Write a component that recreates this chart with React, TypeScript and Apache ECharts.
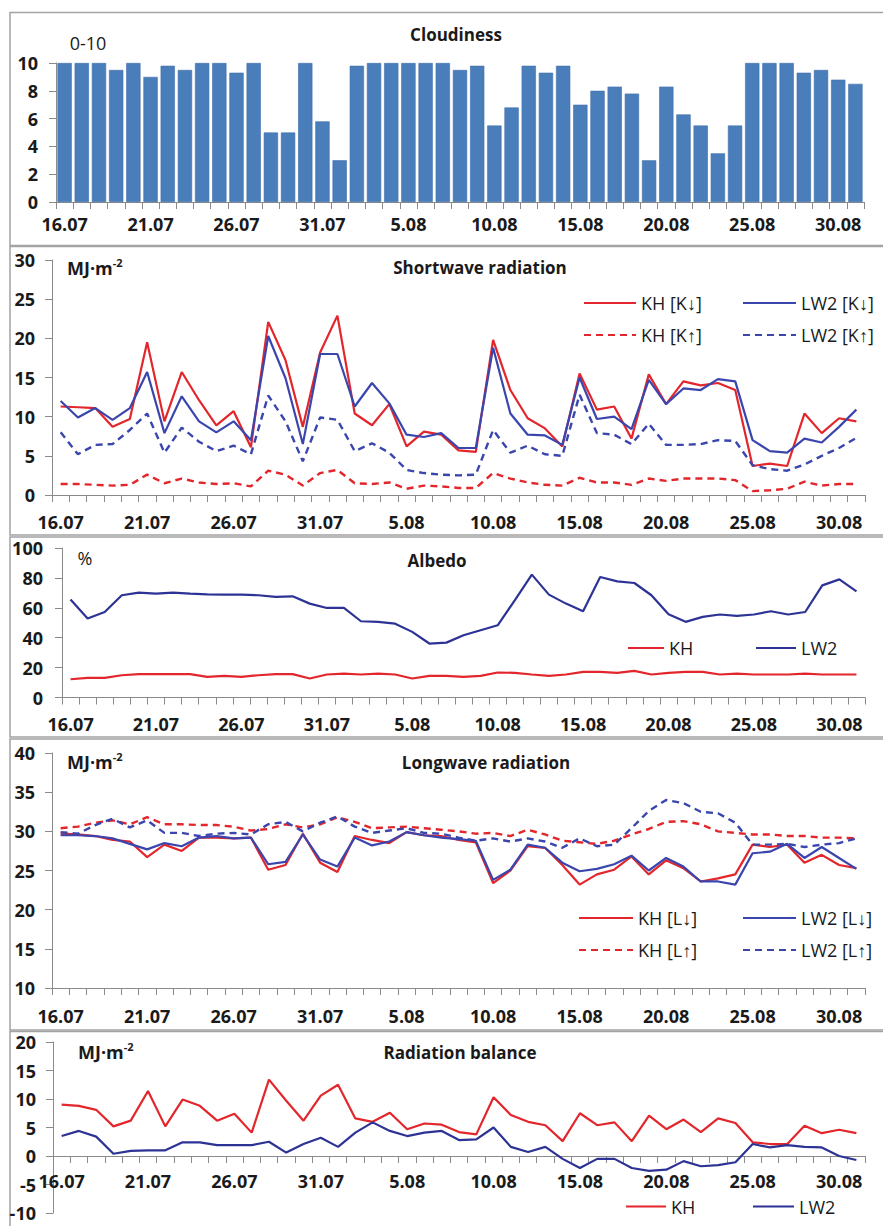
import React, { useEffect, useRef } from "react";
import * as echarts from "echarts";

const dates = [
  "16.07","17.07","18.07","19.07","20.07","21.07","22.07","23.07","24.07","25.07","26.07","27.07","28.07","29.07","30.07","31.07",
  "1.08","2.08","3.08","4.08","5.08","6.08","7.08","8.08","9.08","10.08","11.08","12.08","13.08","14.08","15.08","16.08",
  "17.08","18.08","19.08","20.08","21.08","22.08","23.08","24.08","25.08","26.08","27.08","28.08","29.08","30.08","31.08"
];

const cloudiness = [10,10,10,9.5,10,9,9.8,9.5,10,10,9.3,10,5,5,10,5.8,3,9.8,10,10,10,10,10,9.5,9.8,5.5,6.8,9.8,9.3,9.8,7,8,8.3,7.8,3,8.3,6.3,5.5,3.5,5.5,10,10,10,9.3,9.5,8.8,8.5];

const swKhDown = [11.3,11.2,11.1,8.7,9.7,19.5,9.4,15.7,12.1,8.9,10.7,6.1,22.1,17.2,8.7,18.2,22.9,10.4,8.9,11.6,6.2,8.1,7.7,5.7,5.5,19.8,13.4,9.8,8.5,6.2,15.5,10.9,11.3,7.2,15.4,11.6,14.5,14.0,14.3,13.4,3.7,4.0,3.7,10.4,7.9,9.8,9.4];
const swLw2Down = [12.0,9.9,11.1,9.6,11.1,15.7,7.9,12.6,9.4,8.0,9.4,7.0,20.3,14.9,6.5,18.0,18.0,11.3,14.3,11.7,7.7,7.4,7.9,6.0,6.0,18.8,10.4,7.7,7.6,6.4,15.0,9.7,10.0,8.4,14.7,11.6,13.6,13.4,14.8,14.5,7.0,5.6,5.4,7.2,6.7,8.7,10.9];
const swKhUp = [1.4,1.4,1.3,1.2,1.3,2.6,1.5,2.1,1.6,1.4,1.5,1.1,3.1,2.6,1.2,2.8,3.2,1.5,1.4,1.6,0.8,1.2,1.1,0.9,0.9,2.8,2.1,1.6,1.3,1.2,2.2,1.6,1.6,1.3,2.1,1.8,2.1,2.1,2.1,1.9,0.5,0.6,0.8,1.7,1.2,1.4,1.4];
const swLw2Up = [8.0,5.2,6.4,6.5,8.3,10.4,5.4,8.6,6.8,5.6,6.3,5.2,12.7,9.4,4.3,9.9,9.6,5.6,6.6,5.4,3.2,2.8,2.6,2.5,2.6,8.3,5.4,6.3,5.2,5.0,12.8,7.9,7.7,6.5,9.1,6.4,6.4,6.5,7.0,6.9,3.8,3.3,3.1,3.9,5.0,6.0,7.3];

const albedoKh = [12.2,13.1,13.1,14.9,15.6,15.6,15.6,15.6,13.8,14.5,13.8,14.9,15.6,15.6,12.7,15.4,16,15.4,16,15.4,12.7,14.5,14.5,13.8,14.5,16.7,16.5,15.4,14.5,15.4,17.1,17.1,16.5,17.8,15.4,16.5,17.1,17.1,15.4,16,15.4,15.4,15.4,16,15.4,15.4,15.4];
const albedoLw2 = [65.5,52.8,57.2,68.4,70.2,69.5,70.2,69.5,69,68.8,68.8,68.4,67.3,67.7,62.8,59.9,59.9,51,50.6,49.4,43.9,36.1,36.7,41.6,45,48.3,65,82.2,68.8,62.8,57.7,80.6,77.7,76.6,68.4,55.7,50.6,53.9,55.5,54.6,55.5,57.7,55.5,57.2,75,79,71];

const lwKhDown = [29.7,29.6,29.4,28.9,28.7,26.7,28.3,27.5,29.2,29.2,29.1,29.2,25.1,25.7,29.7,26.0,24.8,29.4,28.9,28.5,29.9,29.5,29.4,28.9,28.6,23.4,25.0,28.1,27.9,25.7,23.2,24.5,25.1,26.8,24.5,26.3,25.3,23.6,24.0,24.5,28.3,28.0,28.3,26.0,27.0,25.7,25.3];
const lwLw2Down = [29.5,29.5,29.4,29.1,28.4,27.7,28.5,28.1,29.2,29.4,29.1,29.2,25.8,26.1,29.6,26.4,25.5,29.2,28.2,28.7,29.9,29.5,29.2,29.0,28.8,23.8,25.1,28.3,27.9,26.0,24.9,25.2,25.8,26.9,25.0,26.6,25.5,23.6,23.6,23.2,27.2,27.4,28.4,26.6,28.0,26.6,25.2];
const lwKhUp = [30.4,30.6,31.1,31.4,30.9,31.8,30.9,30.9,30.8,30.8,30.6,30.1,30.3,30.9,30.5,30.9,31.8,31.2,30.4,30.5,30.6,30.4,30.2,30.0,29.7,29.8,29.4,30.2,29.6,28.8,28.6,28.4,28.8,29.6,30.3,31.2,31.3,30.9,30.0,29.8,29.6,29.6,29.4,29.4,29.2,29.2,29.1];
const lwLw2Up = [29.9,29.7,30.8,31.6,30.5,31.4,29.8,29.8,29.4,29.7,29.8,29.6,30.9,31.2,30.0,31.1,31.9,30.6,29.8,30.1,30.4,29.8,29.7,29.2,28.8,29.1,28.7,29.1,28.7,27.9,29.1,28.1,28.3,30.4,32.6,34.0,33.6,32.5,32.3,31.1,28.3,28.3,28.4,28.0,28.3,28.5,29.1];

const balanceKh = [9.0,8.8,8.1,5.2,6.2,11.4,5.2,9.9,8.8,6.2,7.4,4.1,13.4,9.7,6.2,10.6,12.5,6.6,6.0,7.6,4.7,5.7,5.5,4.2,3.8,10.3,7.2,6.0,5.4,2.6,7.5,5.4,5.9,2.6,7.1,4.7,6.4,4.2,6.6,5.8,2.4,2.1,2.1,5.3,4.0,4.6,4.0];
const balanceLw2 = [3.5,4.4,3.4,0.4,0.9,1.0,1.0,2.4,2.4,1.9,1.9,1.9,2.5,0.6,2.1,3.2,1.6,4.1,5.9,4.4,3.5,4.1,4.4,2.8,2.9,5.0,1.6,0.7,1.6,-0.5,-2.1,-0.5,-0.5,-2.1,-2.6,-2.4,-0.9,-1.8,-1.6,-1.1,2.1,1.5,1.9,1.6,1.5,0.0,-0.7];

const FONT = '"Open Sans", "Liberation Sans", sans-serif';
const AXIS_COLOR = "#8a8a8a";
const TEXT_COLOR = "#1a1a1a";
const RED = "#e2262b";
const BLUE = "#3a46ad";
const NAVY = "#2c3394";
const BAR = "#4a7ebb";

const BAL_MIN = -10;
const BAL_MAX = 20;
const BAL_HEIGHT = 171;

function xAxis(gridIndex: number, margin: number, offset = 0, lineHeight = 20) {
  return {
    type: "category",
    gridIndex,
    data: dates,
    boundaryGap: true,
    position: "bottom",
    offset,
    axisLine: { show: true, onZero: false, lineStyle: { color: AXIS_COLOR, width: 1 } },
    axisTick: { show: true, interval: 0, length: 7, lineStyle: { color: AXIS_COLOR } },
    axisLabel: { interval: 4, margin, lineHeight, fontSize: 18, fontWeight: "bold", color: TEXT_COLOR, fontFamily: FONT },
    splitLine: { show: false },
  };
}

function yAxis(gridIndex: number, min: number, max: number, interval: number, margin: number) {
  return {
    type: "value",
    gridIndex,
    min,
    max,
    interval,
    axisLine: { show: true, lineStyle: { color: AXIS_COLOR, width: 1 } },
    axisTick: { show: true, length: 7, lineStyle: { color: AXIS_COLOR } },
    axisLabel: { margin, fontSize: 18, fontWeight: "bold", color: TEXT_COLOR, fontFamily: FONT },
    splitLine: { show: false },
  };
}

function line(name: string, data: number[], idx: number, color: string, dashed: boolean, width = 2.2) {
  return {
    type: "line",
    name,
    data,
    xAxisIndex: idx,
    yAxisIndex: idx,
    symbol: "none",
    color,
    lineStyle: { color, width: dashed ? 2.4 : width, type: dashed ? [7, 5] : "solid" },
  };
}

function leg(name: string, left: number, cy: number, itemWidth: number, text?: string, lh = 20) {
  return {
    data: [name],
    left,
    top: cy - lh / 2,
    itemWidth,
    itemHeight: lh,
    itemGap: 0,
    padding: 0,
    selectedMode: false,
    itemStyle: { opacity: 0 },
    formatter: text ? () => text : undefined,
    textStyle: { fontSize: 18, color: TEXT_COLOR, fontFamily: FONT, lineHeight: lh },
  };
}

function frame(y: number, h: number) {
  return {
    type: "rect",
    shape: { x: 10, y, width: 900, height: h },
    style: { fill: "none", stroke: "#a3a3a3", lineWidth: 1.5 },
    silent: true,
  };
}

function title(text: string, x: number, y: number) {
  return {
    type: "text",
    x,
    y,
    style: {
      text,
      font: `bold 17px ${FONT}`,
      fill: TEXT_COLOR,
      textAlign: "center",
      textVerticalAlign: "middle",
    },
    silent: true,
  };
}

function unit(x: number, y: number) {
  return {
    type: "text",
    x,
    y,
    style: {
      text: "{a|MJ·m}{b|-2}",
      fill: TEXT_COLOR,
      textAlign: "left",
      textVerticalAlign: "middle",
      rich: {
        a: { fontSize: 18, fontWeight: "bold", fontFamily: FONT, fill: TEXT_COLOR, lineHeight: 22 },
        b: { fontSize: 11, fontWeight: "bold", fontFamily: FONT, fill: TEXT_COLOR, verticalAlign: "top", lineHeight: 12 },
      },
    },
    silent: true,
  };
}

function plain(text: string, x: number, y: number) {
  return {
    type: "text",
    x,
    y,
    style: {
      text,
      font: `18px ${FONT}`,
      fill: TEXT_COLOR,
      textAlign: "center",
      textVerticalAlign: "middle",
    },
    silent: true,
  };
}

export default function App() {
  const ref = useRef<HTMLDivElement>(null);

  useEffect(() => {
    if (!ref.current) return;
    const chart = echarts.init(ref.current, undefined, { renderer: "svg" });
    const zeroOffset = -((0 - BAL_MIN) / (BAL_MAX - BAL_MIN)) * BAL_HEIGHT;
    const g = { outerBoundsMode: "none", containLabel: false };
    const option = {
      animation: false,
      backgroundColor: "#ffffff",
      grid: [
        { ...g, left: 56, width: 808, top: 63, height: 139 },
        { ...g, left: 52, width: 813, top: 260, height: 235 },
        { ...g, left: 62, width: 803, top: 548, height: 149.5 },
        { ...g, left: 52, width: 813, top: 753, height: 235 },
        { ...g, left: 53, width: 812, top: 1042, height: BAL_HEIGHT },
      ],
      xAxis: [xAxis(0, 12), xAxis(1, 17), xAxis(2, 16), xAxis(3, 18), xAxis(4, 17, zeroOffset, 15)],
      yAxis: [
        yAxis(0, 0, 10, 2, 18),
        yAxis(1, 0, 30, 5, 17),
        yAxis(2, 0, 100, 20, 19),
        yAxis(3, 10, 40, 5, 17),
        yAxis(4, BAL_MIN, BAL_MAX, 5, 17),
      ],
      legend: [
        leg("KH [K↓]", 583, 303, 52),
        leg("LW2 [K↓]", 742, 303, 53),
        leg("KH [K↑]", 583, 335, 52),
        leg("LW2 [K↑]", 742, 335, 53),
        leg("KH albedo", 627, 648, 36, "KH"),
        leg("LW2 albedo", 755, 648, 40, "LW2"),
        leg("KH [L↓]", 578, 918, 54),
        leg("LW2 [L↓]", 742, 918, 53),
        leg("KH [L↑]", 578, 950, 54),
        leg("LW2 [L↑]", 742, 950, 53),
        leg("KH balance", 625, 1205, 40, "KH", 15),
        leg("LW2 balance", 752, 1205, 41, "LW2", 15),
      ],
      series: [
        {
          type: "bar",
          name: "Cloudiness",
          data: cloudiness,
          xAxisIndex: 0,
          yAxisIndex: 0,
          barCategoryGap: "17%",
          itemStyle: { color: BAR, borderColor: "#3f6fa8", borderWidth: 0.6 },
        },
        line("KH [K↓]", swKhDown, 1, RED, false),
        line("LW2 [K↓]", swLw2Down, 1, BLUE, false),
        line("KH [K↑]", swKhUp, 1, RED, true),
        line("LW2 [K↑]", swLw2Up, 1, BLUE, true),
        line("KH albedo", albedoKh, 2, RED, false),
        line("LW2 albedo", albedoLw2, 2, NAVY, false),
        line("KH [L↓]", lwKhDown, 3, RED, false),
        line("LW2 [L↓]", lwLw2Down, 3, BLUE, false),
        line("KH [L↑]", lwKhUp, 3, RED, true),
        line("LW2 [L↑]", lwLw2Up, 3, BLUE, true),
        line("KH balance", balanceKh, 4, RED, false),
        line("LW2 balance", balanceLw2, 4, NAVY, false),
      ],
      graphic: [
        frame(12.5, 233),
        frame(246.5, 288.5),
        frame(537, 200),
        frame(739, 291),
        frame(1031.5, 220),
        title("Cloudiness", 456, 34),
        title("Shortwave radiation", 480, 267),
        title("Albedo", 437, 560),
        title("Longwave radiation", 486, 762),
        title("Radiation balance", 460, 1052),
        plain("0-10", 88, 43),
        plain("%", 85, 558),
        unit(67, 268),
        unit(67, 762),
        unit(78, 1052),
      ],
    };
    chart.setOption(option as any);
    return () => chart.dispose();
  }, []);

  return (
    <div
      ref={ref}
      style={{ position: "absolute", left: 0, top: 0, width: 883, height: 1226, background: "#fff" }}
    />
  );
}
